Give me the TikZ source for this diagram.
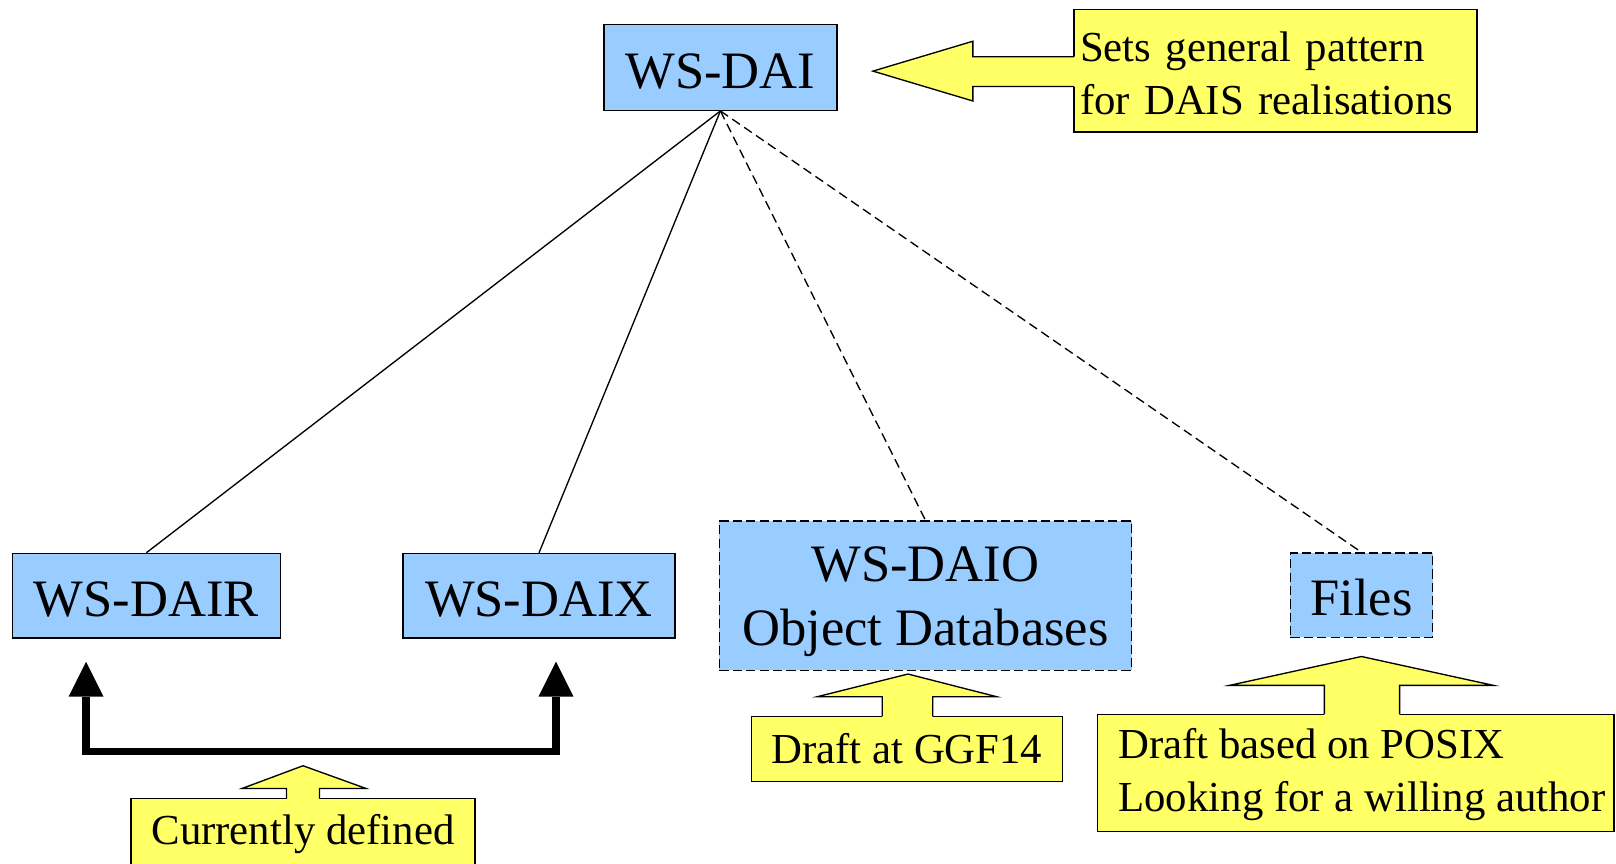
\documentclass[tikz,border=0pt]{standalone}
\usepackage{fontspec}
\setmainfont{Liberation Serif}
\usetikzlibrary{arrows.meta}
\definecolor{boxblue}{HTML}{99CCFF}
\definecolor{noteyellow}{HTML}{FFFF66}
\newcommand\bigtxt{\fontsize{51}{62}\selectfont}
\newcommand\smalltxt{\fontsize{41.5}{51}\selectfont}
\begin{document}
\begin{tikzpicture}[x=1pt,y=-1pt,
  wsbox/.style={draw, fill=boxblue, line width=1.3pt, inner sep=0pt, font=\bigtxt, align=center},
  oneline/.style={text height=40pt, text depth=0pt},
  dashbox/.style={wsbox, dash pattern=on 9pt off 4pt},
  notebox/.style={draw, fill=noteyellow, line width=1.3pt, inner sep=0pt, font=\smalltxt},
  noteline/.style={line width=1.3pt, line join=miter},
  link/.style={line width=1.3pt},
  dlink/.style={link, dash pattern=on 9pt off 5pt},
  bracket/.style={line width=7pt, line join=miter,
    {Triangle[width=34pt,length=34pt,line width=0pt]}-{Triangle[width=34pt,length=34pt,line width=0pt]}}
]
\useasboundingbox (0,0) rectangle (1568,838);

% main boxes
\node[wsbox, oneline, minimum width=226pt, minimum height=83pt] (dai) at (699,65.5) {WS-DAI};
\node[wsbox, oneline, minimum width=260pt, minimum height=82pt] (dair) at (142,578) {WS-DAIR};
\node[wsbox, oneline, minimum width=264pt, minimum height=82pt] (daix) at (523,578) {WS-DAIX};
\node[dashbox, minimum width=400pt, minimum height=145pt] (daio) at (898,578) {\rule{0pt}{46pt}WS-DAIO\\Object Databases};
\node[dashbox, oneline, minimum width=138pt, minimum height=82pt] (files) at (1321,577.5) {Files};

% links
\draw[link] (dai.south) -- (dair.north);
\draw[link] (dai.south) -- (daix.north);
\draw[dlink] (dai.south) -- (daio.north);
\draw[dlink] (dai.south) -- (files.north);

% bracket arrow
\coordinate (b1) at (83.5,642);
\coordinate (b2) at (539.5,642);
\draw[bracket] (b1) -- (83.5,729.5) -- (539.5,729.5) -- (b2);

% note 1
\node[notebox, minimum width=391pt, minimum height=119pt, text width=379pt, align=left, inner xsep=6pt] (n1) at (1237.5,68.5) {\rule{0pt}{34pt}Sets general pattern\\for DAIS realisations};
\fill[noteyellow] (1044,55) -- (944,55) -- (944,40) -- (847,69) -- (944,98) -- (944,84) -- (1044,84) -- cycle;
\draw[noteline] (1042,55) -- (944,55) -- (944,40) -- (847,69) -- (944,98) -- (944,84) -- (1042,84);

% note 2
\node[notebox, minimum width=334pt, minimum height=80pt, text height=29pt, text depth=21pt] (n2) at (294,815) {Currently defined};
\fill[noteyellow] (278,776.5) -- (278,765) -- (235,765) -- (294,743) -- (355,765) -- (310,765) -- (310,776.5) -- cycle;
\draw[noteline] (278,775) -- (278,765) -- (235,765) -- (294,743) -- (355,765) -- (310,765) -- (310,775);

% note 3
\node[notebox, minimum width=302pt, minimum height=63pt] (n3) at (880,726.5) {Draft at GGF14};
\fill[noteyellow] (856,696.5) -- (856,676) -- (793,676) -- (881,654) -- (967,676) -- (905,676) -- (905,696.5) -- cycle;
\draw[noteline] (856,695) -- (856,676) -- (793,676) -- (881,654) -- (967,676) -- (905,676) -- (905,695);

% note 4
\node[notebox, minimum width=501pt, minimum height=114pt, align=left] (n4) at (1315.5,750) {\rule{0pt}{32pt}\hspace*{12pt}Draft based on POSIX\\\hspace*{12pt}Looking for a willing author};
\fill[noteyellow] (1285,694.5) -- (1285,665) -- (1193,665) -- (1321,637) -- (1449,665) -- (1358,665) -- (1358,694.5) -- cycle;
\draw[noteline] (1285,693) -- (1285,665) -- (1193,665) -- (1321,637) -- (1449,665) -- (1358,665) -- (1358,693);
\end{tikzpicture}
\end{document}
